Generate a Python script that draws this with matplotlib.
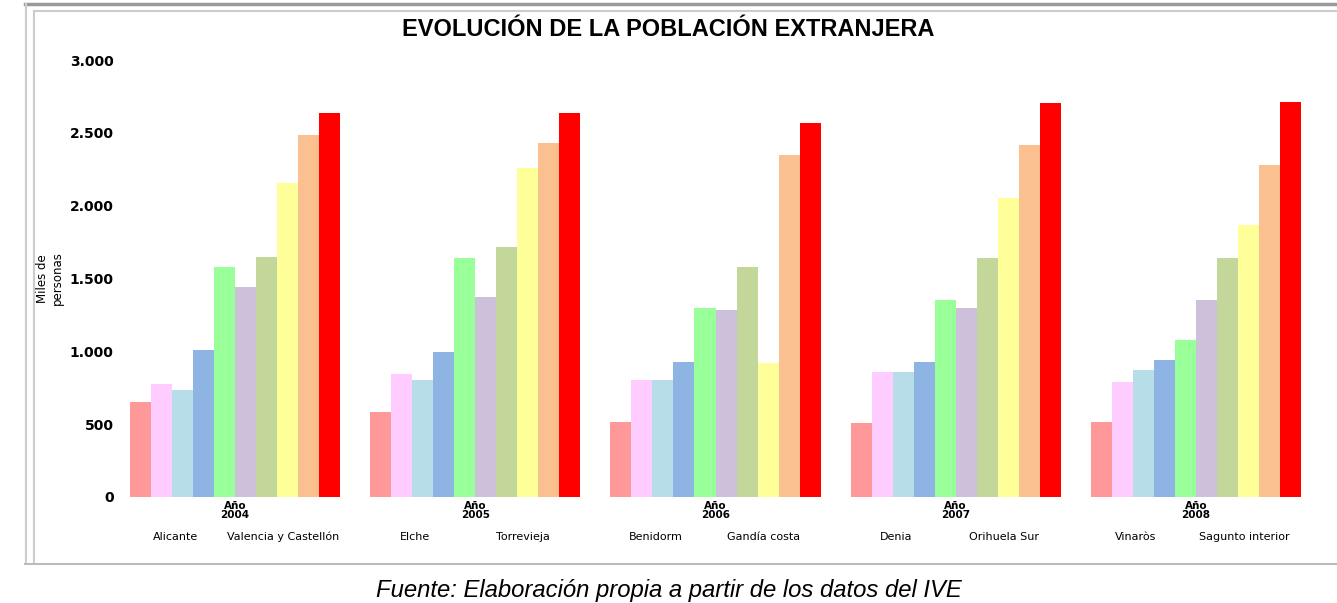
import numpy as np
import matplotlib.pyplot as plt
from matplotlib.lines import Line2D

# data (5 groups x 10 series)
groups = ['Año\n2004', 'Año\n2005', 'Año\n2006', 'Año\n2007', 'Año\n2008']
sub_labels = ['Alicante', 'Valencia y Castellón', 'Elche', 'Torrevieja', 'Benidorm', 'Gandía costa',
              'Denia', 'Orihuela Sur', 'Vinaròs', 'Sagunto interior']
s1 = [652, 584, 515, 508, 515]
s2 = [776, 845, 804, 859, 790]
s3 = [735, 804, 804, 859, 872]
s4 = [1010, 996, 927, 927, 941]
s5 = [1580, 1641, 1298, 1353, 1078]
s6 = [1442, 1374, 1284, 1298, 1353]
s7 = [1648, 1717, 1580, 1641, 1641]
s8 = [2157, 2260, 920, 2054, 1868]
s9 = [2486, 2431, 2349, 2418, 2280]
s10 = [2637, 2637, 2569, 2706, 2713]
series = [s1, s2, s3, s4, s5, s6, s7, s8, s9, s10]
colors = ['#FF9999', '#FFCCFF', '#B7DDE8', '#8DB4E2', '#99FF99',
          '#CCC0DA', '#C4D79B', '#FFFF99', '#FAC090', '#FF0000']
yticks = [0, 500, 1000, 1500, 2000, 2500, 3000]
ytick_labels = ['0', '500', '1.000', '1.500', '2.000', '2.500', '3.000']

fig = plt.figure(figsize=(13.37, 6.03), dpi=100)
ax = fig.add_axes([115/1337, 1-497/603, 1201/1337, 437/603])

n = len(series)
w = 0.875/n
x = np.arange(len(groups))
for i in range(n):
	ax.bar(x - 0.4375 + w*(i+0.5), series[i], width=w, color=colors[i], edgecolor='none')

ax.set_xlim(-0.5, len(groups)-0.5)
ax.set_ylim(0, 3000)
ax.set_yticks(yticks)
ax.set_yticklabels(ytick_labels, fontsize=10, fontweight='bold')
ax.set_xticks(x)
ax.set_xticklabels(groups, fontsize=7.5, fontweight='bold', linespacing=0.9)
# second row of labels: two per group
pos = []
for g in x:
	pos += [g - 0.25, g + 0.2]
ax.set_xticks(pos, minor=True)
ax.set_xticklabels(sub_labels, minor=True, fontsize=8)
ax.tick_params(axis='x', which='major', length=0, pad=3)
ax.tick_params(axis='x', which='minor', length=0, pad=25)
ax.tick_params(axis='y', length=0, pad=1)
for sp in ax.spines.values():
	sp.set_visible(False)
ax.set_ylabel('Miles de\npersonas', fontsize=8.5, labelpad=4)

fig.text(0.5, 1-30/603, 'EVOLUCIÓN DE LA POBLACIÓN EXTRANJERA', ha='center', va='center',
	fontsize=17, fontweight='bold', family='Liberation Sans')
fig.text(669/1337, 1-591/603, 'Fuente: Elaboración propia a partir de los datos del IVE', ha='center', va='center',
	fontsize=17.2, style='italic', family='Liberation Sans')

# frame of the original screenshot
fig.add_artist(Line2D([25/1337, 1], [1-4/603, 1-4/603], color='#999999', lw=2.5))
fig.add_artist(Line2D([35/1337, 1], [1-11/603, 1-11/603], color='#cccccc', lw=1.5))
fig.add_artist(Line2D([26/1337, 26/1337], [1-563/603, 1-4/603], color='#cccccc', lw=1.5))
fig.add_artist(Line2D([34/1337, 34/1337], [1-563/603, 1-11/603], color='#cccccc', lw=1.5))
fig.add_artist(Line2D([25/1337, 1], [1-564/603, 1-564/603], color='#bbbbbb', lw=1.5))

plt.savefig('out.png', dpi=100)
